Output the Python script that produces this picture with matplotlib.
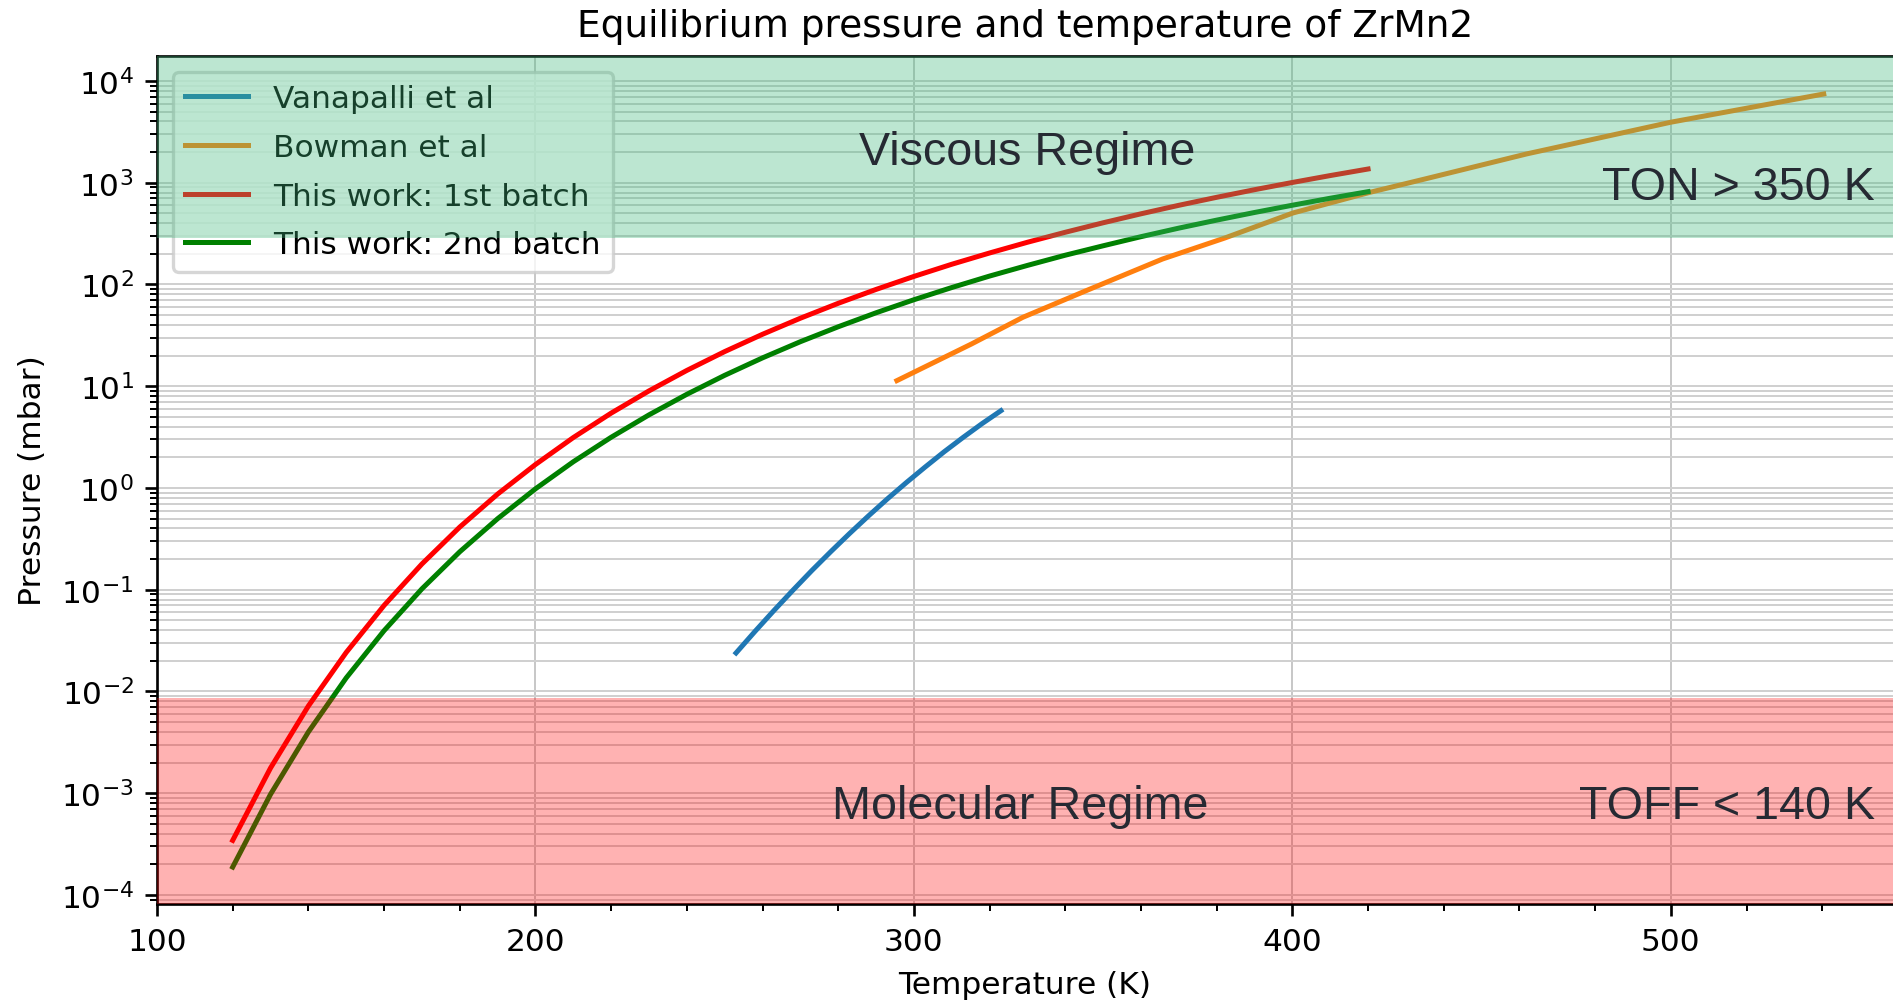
import numpy as np
import matplotlib
matplotlib.use("Agg")
import matplotlib.pyplot as plt
from matplotlib.ticker import MultipleLocator, NullFormatter

# values
T_work = [120, 130, 140, 150, 160, 170, 180, 190, 200, 210, 220, 230, 240, 250, 260,
          270, 280, 290, 300, 310, 320, 330, 340, 350, 360, 370, 380, 390, 400, 410, 420]
p_batch1 = [3.44e-4, 1.77e-3, 7.2e-3, 0.0242, 0.0701, 0.179, 0.413, 0.871, 1.70, 3.13,
            5.44, 9.0, 14.3, 21.9, 32.4, 46.6, 65.3, 89.4, 120, 158, 204, 260, 326, 404,
            495, 600, 719, 854, 1006, 1176, 1364]
p_batch2 = [1.88e-4, 9.76e-4, 4.0e-3, 0.0136, 0.0396, 0.102, 0.236, 0.499, 0.981, 1.81,
            3.15, 5.23, 8.33, 12.8, 19.0, 27.4, 38.4, 52.7, 70.8, 93.3, 121, 154, 194, 240,
            295, 358, 429, 510, 601, 704, 817]

T_vana = [253, 258, 263, 268, 273, 278, 283, 288, 293, 298, 303, 308, 313, 318, 323]
p_vana = [0.0239, 0.0389, 0.0624, 0.0986, 0.154, 0.236, 0.357, 0.532, 0.782, 1.13,
          1.61, 2.27, 3.14, 4.29, 5.75]

T_bowman = [295.5, 315.2, 328.8, 345.5, 365.7, 382.0, 400.2, 420.5, 435.0, 461.9, 499.9, 540.4]
p_bowman = [11.35, 26.0, 47.6, 86.9, 178, 285, 505, 805, 1088, 1919, 3927, 7450]

viscous_min = 285
molecular_max = 8.6e-3

plt.rcParams["font.size"] = 9.4

W, H, DPI = 1893, 1003, 240
fig = plt.figure(figsize=(W / DPI, H / DPI), dpi=DPI)
ax = fig.add_axes([157 / W, 1 - 905 / H, 1 - 157 / W, (905 - 57) / H])

ax.plot(T_vana, p_vana, color="C0", lw=1.5, label="Vanapalli et al")
ax.plot(T_bowman, p_bowman, color="C1", lw=1.5, label="Bowman et al")
ax.plot(T_work, p_batch1, color="red", lw=1.5, label="This work: 1st batch")
ax.plot(T_work, p_batch2, color="green", lw=1.5, label="This work: 2nd batch")

ax.set_yscale("log")
ax.set_xlim(100, 558.7)
ax.set_ylim(8.15e-5, 1.76e4)
ax.xaxis.set_minor_locator(MultipleLocator(20))
ax.yaxis.set_minor_formatter(NullFormatter())

ax.grid(True, which="major", axis="x", color="#c8c8c8", lw=0.6)
ax.grid(True, which="both", axis="y", color="#d0d0d0", lw=0.6)
ax.set_axisbelow(True)
ax.spines["right"].set_visible(False)

ax.set_title("Equilibrium pressure and temperature of ZrMn2")
ax.set_xlabel("Temperature (K)", labelpad=4)
ax.set_ylabel("Pressure (mbar)")
ax.legend(loc="upper left", labelspacing=0.63)

# regime overlays drawn on top of everything
ylo, yhi = ax.get_ylim()
ax.axhspan(viscous_min, yhi, color=(64 / 255, 186 / 255, 124 / 255), alpha=0.35, lw=0, zorder=6)
ax.axhspan(ylo, molecular_max, color="red", alpha=0.3, lw=0, zorder=6)

tkw = dict(fontsize=14, color="#262a33", family="Liberation Sans", zorder=7)
ax.text(330, 2000, "Viscous Regime", ha="center", va="center", **tkw)
ax.text(554, 900, "TON > 350 K", ha="right", va="center", **tkw)
ax.text(328, 7.5e-4, "Molecular Regime", ha="center", va="center", **tkw)
ax.text(554, 7.5e-4, "TOFF < 140 K", ha="right", va="center", **tkw)

fig.savefig("out.png", dpi=DPI)
